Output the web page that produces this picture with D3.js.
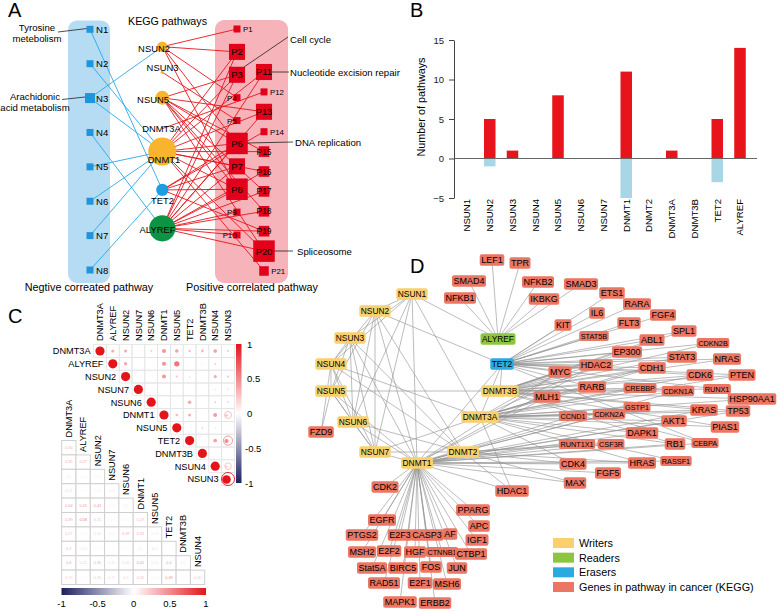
<!DOCTYPE html>
<html><head><meta charset="utf-8">
<script src="https://d3js.org/d3.v7.min.js"></script>
<style>
body{margin:0;background:#fff;}
svg{display:block;}
text{font-family:Arial,"Liberation Sans",Helvetica,sans-serif;}
</style></head>
<body>
<svg id="fig" width="777" height="611"></svg>
<script>
// ================= DATA =================
// ---- Panel A : KEGG pathway network ----
const negPathways = ["N1","N2","N3","N4","N5","N6","N7","N8"];
const posPathwaysLeft = ["P1","P2","P3","P4","P5","P6","P7","P8","P9","P10"];
const posPathwaysRight = ["P11","P12","P13","P14","P15","P16","P17","P18","P19","P20","P21"];
const posPathwayWeight = [1,3.5,3.5,1,1,5,3.5,5,1,1, 3.5,1,3.5,1,2,2,2,2,2,5,1.7];
const regulatorsA = ["NSUN2","NSUN3","NSUN5","DNMT3A","DNMT1","TET2","ALYREF"];
const regulatorClassA = ["Writers","Writers","Writers","Writers","Writers","Erasers","Readers"];
const negEdges = [["N1","TET2"],["N2","DNMT1"],["N3","NSUN2"],["N3","DNMT1"],["N4","ALYREF"],
  ["N5","DNMT1"],["N6","DNMT1"],["N7","DNMT1"],["N8","TET2"]];
const posTargets = {
  NSUN2:["P1","P2","P4","P6","P8"],
  NSUN3:["P5"],
  NSUN5:["P3","P6","P8","P13","P15","P17","P18","P20"],
  DNMT3A:["P12"],
  DNMT1:["P2","P3","P6","P7","P8","P11","P13","P15","P16","P20","P21"],
  TET2:["P6","P7","P8","P14","P19"],
  ALYREF:["P2","P3","P6","P7","P8","P9","P10","P11","P13","P16","P17","P18","P19","P20"]
};
const noteNodes = ["N1","N3","P3","P11","P6","P20"];
const noteTexts = [["Tyrosine","metebolism"],["Arachidonic","acid metabolism"],["Cell cycle"],
  ["Nucleotide excision repair"],["DNA replication"],["Spliceosome"]];

// ---- Panel B : number of pathways ----
const bCategories = ["NSUN1","NSUN2","NSUN3","NSUN4","NSUN5","NSUN6","NSUN7","DNMT1","DNMT2","DNMT3A","DNMT3B","TET2","ALYREF"];
const bPositive = [0,5,1,0,8,0,0,11,0,1,0,5,14];
const bNegative = [0,-1,0,0,0,0,0,-5,0,0,0,-3,0];
const bTicks = [-5,0,5,10,15];

// ---- Panel C : correlation matrix (lower triangle, row i vs columns 0..i-1) ----
const cVars = ["DNMT3A","ALYREF","NSUN2","NSUN7","NSUN6","DNMT1","NSUN5","TET2","DNMT3B","NSUN4","NSUN3"];
const cLower = [
  [],
  [0.34],
  [0.35,0.37],
  [0.1,0.03,0.05],
  [0.21,0.02,0.06,0.08],
  [0.44,0.45,0.44,0.04,0.1],
  [0.39,0.58,0.25,0.03,0.05,0.29],
  [0.27,0.03,0.16,0.1,0.37,0.33,-0.07],
  [0.3,0.13,0.04,0,0.02,0.1,0.2,0.02],
  [0.4,0.22,0.35,0.15,0.22,0.42,0.15,0.4,0.1],
  [0.23,0.03,0.25,0.17,0.2,0.29,-0.04,0.49,0.02,0.26]
];
const cBarTicks = [-1,-0.5,0,0.5,1];

// ---- Panel D : regulator / cancer-gene network ----
const dWriters = ["NSUN1","NSUN2","NSUN3","NSUN4","NSUN5","NSUN6","NSUN7","DNMT1","DNMT2","DNMT3A","DNMT3B"];
const dReaders = ["ALYREF"];
const dErasers = ["TET2"];
const dGenes = ["LEF1","TPR","SMAD4","NFKB1","NFKB2","IKBKG","SMAD3","ETS1","RARA","IL6","FGF4","KIT","FLT3","STAT5B",
  "SPL1","ABL1","CDKN2B","EP300","STAT3","NRAS","HDAC2","MYC","CDH1","CDK6","PTEN","RARB","CREBBP","CDKN1A","RUNX1",
  "HSP90AA1","MLH1","KRAS","TP53","GSTP1","CDKN2A","CCND1","AKT1","PIAS1","DAPK1","RB1","CEBPA","RUNT1X1","CSF3R",
  "HRAS","RASSF1","CDK4","FGF5","MAX","HDAC1","CDK2","FZD9","PPARG","APC","EGFR","PTGS2","E2F3","CASP3","AF","IGF1",
  "MSH2","E2F2","HGF","CTNNB1","CTBP1","Stat5A","BIRC5","FOS","JUN","RAD51","E2F1","MSH6","MAPK1","ERBB2"];
const dRegEdges = [["NSUN1","NSUN2"],["NSUN1","NSUN3"],["NSUN1","NSUN4"],["NSUN1","NSUN6"],["NSUN1","NSUN7"],["NSUN1","DNMT1"],
  ["NSUN1","DNMT3A"],["NSUN1","ALYREF"],["NSUN2","NSUN4"],["NSUN2","NSUN5"],["NSUN2","NSUN6"],["NSUN2","NSUN7"],["NSUN2","TET2"],
  ["NSUN2","DNMT2"],["NSUN2","DNMT1"],["NSUN3","NSUN4"],["NSUN3","NSUN5"],["NSUN3","NSUN6"],["NSUN3","NSUN7"],["NSUN3","DNMT2"],
  ["NSUN3","DNMT1"],["NSUN4","NSUN5"],["NSUN4","NSUN6"],["NSUN4","NSUN7"],["NSUN4","DNMT3A"],["NSUN4","FZD9"],["NSUN4","DNMT2"],
  ["NSUN5","NSUN6"],["NSUN5","NSUN7"],["NSUN5","FZD9"],["NSUN5","DNMT1"],["NSUN5","DNMT3B"],["NSUN6","NSUN7"],["NSUN6","DNMT2"],
  ["NSUN6","DNMT1"],["NSUN7","DNMT1"],["NSUN7","DNMT2"],["NSUN7","DNMT3A"],["TET2","DNMT3B"],["TET2","DNMT3A"],["TET2","DNMT1"]];
const dTargets = {
  ALYREF:["LEF1","TPR","SMAD4","NFKB1","NFKB2","IKBKG","SMAD3"],
  TET2:["ETS1","RARA","IL6","KIT","FLT3","STAT5B","FGF4","ABL1","SPL1","CDKN2B","EP300","STAT3","NRAS","MYC","HDAC2","CDK6",
    "RUNX1","CEBPA","CDH1","RARB","PTEN"],
  DNMT3B:["MYC","MLH1","HDAC2","CDH1","EP300","STAT3","ABL1","NRAS","PTEN","CDK6","RUNX1","HSP90AA1","TP53","KRAS","PIAS1",
    "RB1","CEBPA","CDKN2B","SPL1","CREBBP","CDKN1A"],
  DNMT3A:["MYC","MLH1","HDAC2","RARB","CDH1","CDK6","CDKN2A","CCND1","GSTP1","STAT3","CREBBP","CDKN1A","KRAS","TP53","AKT1",
    "DAPK1","RB1","RASSF1","PTEN","HRAS","HDAC1","CDK4","HSP90AA1","PIAS1"],
  DNMT1:["CDK2","EGFR","PTGS2","E2F3","CASP3","AF","MSH2","E2F2","HGF","CTNNB1","Stat5A","BIRC5","FOS","JUN","RAD51","E2F1",
    "MSH6","MAPK1","ERBB2","PPARG","APC","IGF1","CTBP1","HDAC1","CDK4","MAX","FGF5","HRAS","RUNT1X1","CSF3R","DAPK1","RB1",
    "MLH1","MYC","CCND1","CDKN2A","GSTP1","AKT1","KRAS","RASSF1","CEBPA","TP53","CDKN1A","HDAC2"],
  DNMT2:["HDAC1","CDK4","MAX","CSF3R","RUNT1X1","HRAS"]
};
const legendLabels = ["Writers","Readers","Erasers","Genes in pathway in cancer (KEGG)"];

// ================= LAYOUT / STYLE =================
const colA = {neg:90, reg:162.3, pL:237, pR:264};
const regLayoutA = [0,1,2,3.2,4.1,5.6,7.1];
const regLabelA = [[154,4.8],[162.5,-0.8],[153,4.7],[161.5,3.4],[164,11.4],[162.5,13.7],[157.5,4.7]];
const pLabelSide = {P1:"r",P4:"l",P5:"l",P9:"l",P10:"l",P12:"r",P14:"r",P21:"r"};
const noteLayout = [
  {line:[58,32,87,28.5], text:[37,31], anchor:"middle"},
  {line:[62,99.5,85,97], text:[35,100], anchor:"middle"},
  {line:[244,67,288,37], text:[290,43], anchor:"start"},
  {line:[271,72,289,72], text:[290,76], anchor:"start"},
  {line:[247,143,293,142], text:[295,145.5], anchor:"start"},
  {line:[274,251,293,251], text:[297,254.5], anchor:"start"}
];
const dLayout = {
  NSUN1:[112,39],NSUN2:[75,56],NSUN3:[50,83],NSUN4:[31,109],NSUN5:[31,136],NSUN6:[53,167],NSUN7:[75,197],
  DNMT1:[117,208],DNMT2:[163,197],DNMT3A:[180,162],DNMT3B:[200,136],ALYREF:[198,84],TET2:[202,109],
  LEF1:[192,5],TPR:[220,8],SMAD4:[169,26],NFKB1:[160,43],NFKB2:[238,27],IKBKG:[244,44],SMAD3:[281,29],ETS1:[312,38],
  RARA:[337,49],IL6:[297,58],FGF4:[363,60],KIT:[263,70],FLT3:[329,68],STAT5B:[294,81],SPL1:[384,76],ABL1:[352,85],
  CDKN2B:[413,88],EP300:[327,97],STAT3:[382,102],NRAS:[427,104],HDAC2:[296,110],MYC:[260,117],CDH1:[352,113],
  CDK6:[400,120],PTEN:[442,120],RARB:[292,132],CREBBP:[340,133],CDKN1A:[378,136],RUNX1:[417,134],HSP90AA1:[452,144],
  MLH1:[247,142],KRAS:[404,155],TP53:[438,156],GSTP1:[337,152],CDKN2A:[309,159],CCND1:[273,161],AKT1:[374,166],
  PIAS1:[425,172],DAPK1:[342,178],RB1:[375,189],CEBPA:[405,188],RUNT1X1:[277,189],CSF3R:[311,189],HRAS:[342,208],
  RASSF1:[376,206],CDK4:[273,209],FGF5:[308,218],MAX:[275,228],HDAC1:[212,236],CDK2:[85,232],FZD9:[21,177],
  PPARG:[173,255],APC:[179,271],EGFR:[82,265],PTGS2:[62,280],E2F3:[100,280],CASP3:[127,280],AF:[150,279],IGF1:[177,285],
  MSH2:[62,297],E2F2:[89,296],HGF:[115,297],CTNNB1:[142,297],CTBP1:[171,299],Stat5A:[72,313],BIRC5:[103,313],
  FOS:[131,312],JUN:[157,313],RAD51:[84,328],E2F1:[120,328],MSH6:[147,329],MAPK1:[100,347],ERBB2:[135,348]
};
const dSmallLabel = new Set(["STAT5B","CDKN2B","CREBBP","CDKN1A","RUNX1","GSTP1","CDKN2A","CCND1","RUNT1X1","CSF3R","CEBPA","RASSF1","CTNNB1"]);
const roleColor = {Writers:"#f8d16e", Readers:"#8cc63f", Erasers:"#29abe2", Genes:"#ea7663"};
const roleColorA = {Writers:"#f8b42c", Readers:"#0c9444", Erasers:"#1c9de2"};

// ================= DRAW =================
const svg = d3.select("#fig");

// panel letters
[["A",8,17],["B",410,17],["C",8,323],["D",410,273]].forEach(([t,x,y])=>{
  svg.append("text").attr("x",x).attr("y",y).attr("font-size",20).text(t);
});

// ---------- Panel A ----------
const gA = svg.append("g");
gA.append("rect").attr("x",68).attr("y",20.5).attr("width",42).attr("height",262.5).attr("rx",9).attr("fill","#b5dcf3");
gA.append("rect").attr("x",215).attr("y",20).attr("width",73).attr("height",263).attr("rx",9).attr("fill","#f6b3b9");
gA.append("text").attr("x",128).attr("y",25).attr("font-size",10.7).text("KEGG pathways");
gA.append("text").attr("x",89).attr("y",291).attr("text-anchor","middle").attr("font-size",10.8).text("Negtive correated pathway");
gA.append("text").attr("x",252).attr("y",291).attr("text-anchor","middle").attr("font-size",10.8).text("Positive correlated pathway");

const nY = d3.scalePoint().domain(negPathways).range([29.3,270]);
const pLY = d3.scalePoint().domain(posPathwaysLeft).range([29,235]);
const pRY = d3.scalePoint().domain(posPathwaysRight).range([72,271]);
const regY = d3.scaleLinear().domain([0,7.1]).range([46.7,228.3]);
const posA = {};
negPathways.forEach(n=>posA[n]={x:colA.neg,y:nY(n)});
posPathwaysLeft.forEach(n=>posA[n]={x:colA.pL,y:pLY(n)});
posPathwaysRight.forEach(n=>posA[n]={x:colA.pR,y:pRY(n)});
regulatorsA.forEach((n,i)=>posA[n]={x:colA.reg,y:regY(regLayoutA[i])});

const posEdges = [];
Object.entries(posTargets).forEach(([g,ps])=>ps.forEach(p=>posEdges.push([g,p])));
gA.selectAll("line.pos").data(posEdges).join("line")
  .attr("x1",d=>posA[d[0]].x).attr("y1",d=>posA[d[0]].y)
  .attr("x2",d=>posA[d[1]].x).attr("y2",d=>posA[d[1]].y)
  .attr("stroke","#e8141c").attr("stroke-width",0.9);
gA.selectAll("line.neg").data(negEdges).join("line")
  .attr("x1",d=>posA[d[0]].x).attr("y1",d=>posA[d[0]].y)
  .attr("x2",d=>posA[d[1]].x).attr("y2",d=>posA[d[1]].y)
  .attr("stroke","#29a8e8").attr("stroke-width",0.9);

// annotation leaders
noteNodes.forEach((n,i)=>{
  const L = noteLayout[i];
  gA.append("line").attr("x1",L.line[0]).attr("y1",L.line[1]).attr("x2",L.line[2]).attr("y2",L.line[3])
    .attr("stroke","#222").attr("stroke-width",0.8);
  noteTexts[i].forEach((t,k)=>{
    gA.append("text").attr("x",L.text[0]).attr("y",L.text[1]+k*10.5).attr("text-anchor",L.anchor)
      .attr("font-size",9.6).text(t);
  });
});

// negative pathway squares
const negDeg = n=>negEdges.filter(e=>e[0]===n).length;
const nSide = d3.scaleLinear().domain([1,2]).range([7,10]);
negPathways.forEach(n=>{
  const s = nSide(negDeg(n));
  gA.append("rect").attr("x",posA[n].x-s/2).attr("y",posA[n].y-s/2).attr("width",s).attr("height",s).attr("fill","#1f96dc");
  gA.append("text").attr("x",96).attr("y",posA[n].y+3.6).attr("font-size",9.6).text(n);
});

// positive pathway squares
const pSide = d3.scaleLinear().domain([1,5]).range([7,21.5]);
const allP = posPathwaysLeft.concat(posPathwaysRight);
allP.forEach((n,i)=>{
  const w = posPathwayWeight[i], s = pSide(w), p = posA[n];
  gA.append("rect").attr("x",p.x-s/2).attr("y",p.y-s/2).attr("width",s).attr("height",s).attr("fill","#e2001a");
  const side = pLabelSide[n] || "c";
  const t = gA.append("text").attr("y",p.y+3).text(n);
  if(side==="c"){ t.attr("x",p.x).attr("text-anchor","middle").attr("font-size",w>=3?9.4:8.4).attr("y",p.y+(w>=3?3.4:3)); }
  else if(side==="r"){ t.attr("x",p.x+s/2+2.5).attr("font-size",7.8); }
  else { t.attr("x",p.x-s/2+3).attr("text-anchor","end").attr("font-size",7.8); }
});

// regulator circles
const regDeg = n=>negEdges.filter(e=>e[1]===n).length+(posTargets[n]||[]).length;
const rScale = d3.scaleLinear().domain([0,16]).range([0,14]);
regulatorsA.forEach((n,i)=>{
  const r = Math.max(1.6,rScale(regDeg(n)));
  if(n!=="DNMT3A") gA.append("circle").attr("cx",posA[n].x).attr("cy",posA[n].y).attr("r",r).attr("fill",roleColorA[regulatorClassA[i]]);
  gA.append("text").attr("x",regLabelA[i][0]).attr("y",posA[n].y+regLabelA[i][1]).attr("text-anchor","middle")
    .attr("font-size",9.4).text(n);
});

// ---------- Panel B ----------
const gB = svg.append("g");
const bx = d3.scalePoint().domain(bCategories).range([467,740]);
const by = d3.scaleLinear().domain([-5,15]).range([198,40]);
const bw = 11.5;
gB.selectAll("rect.p").data(bCategories).join("rect")
  .attr("x",d=>bx(d)-bw/2).attr("width",bw)
  .attr("y",(d,i)=>by(bPositive[i])).attr("height",(d,i)=>by(0)-by(bPositive[i]))
  .attr("fill","#e8141c");
gB.selectAll("rect.n").data(bCategories).join("rect")
  .attr("x",d=>bx(d)-bw/2).attr("width",bw)
  .attr("y",by(0)).attr("height",(d,i)=>by(bNegative[i])-by(0))
  .attr("fill","#a9d6e4");
gB.append("line").attr("x1",454).attr("x2",757).attr("y1",by(0)).attr("y2",by(0)).attr("stroke","#666").attr("stroke-width",1.1);
const ax = gB.append("g").attr("transform","translate(454,0)")
  .call(d3.axisLeft(by).tickValues(bTicks).tickSize(5).tickSizeOuter(0).tickPadding(5));
ax.select(".domain").attr("stroke","#444");
ax.selectAll(".tick line").attr("stroke","#444");
ax.selectAll(".tick text").attr("font-size",9.5).attr("font-family","Arial,'Liberation Sans',sans-serif").attr("fill","#222");
gB.append("text").attr("transform","translate(425,107) rotate(-90)").attr("text-anchor","middle")
  .attr("font-size",10.8).text("Number of pathways");
bCategories.forEach(c=>{
  gB.append("text").attr("transform",`translate(${bx(c)+3.4},199) rotate(-90)`).attr("text-anchor","end")
    .attr("font-size",9.6).text(c);
});

// ---------- Panel C ----------
const gC = svg.append("g");
const corr = (i,j)=> i===j?1:(i>j?cLower[i][j]:cLower[j][i]);
const cColor = d3.scaleLinear().domain([-1,0,1]).range(["#1c1f5f","#ffffff","#e4141b"]);
const n = cVars.length;
const ux = d3.scaleBand().domain(cVars).range([93.6,93.6+11*12.8]);
const uy = d3.scaleBand().domain(cVars).range([344.6,344.6+11*12.8]);
const us = ux.bandwidth();
for(let i=0;i<n;i++){
  for(let j=i;j<n;j++){
    gC.append("rect").attr("x",ux(cVars[j])).attr("y",uy(cVars[i])).attr("width",us).attr("height",us)
      .attr("fill","none").attr("stroke","#e4e4e4").attr("stroke-width",0.8);
  }
}
for(let i=0;i<n;i++){
  for(let j=i;j<n;j++){
    const v = corr(i,j), cx = ux(cVars[j])+us/2, cy = uy(cVars[i])+us/2;
    if(j===n-1 && Math.abs(v)>0.25){
      gC.append("circle").attr("cx",cx).attr("cy",cy).attr("r",6.5*Math.sqrt(Math.abs(v)))
        .attr("fill","none").attr("stroke",cColor(v)).attr("stroke-width",0.9);
      gC.append("circle").attr("cx",cx-1.5).attr("cy",cy+0.5).attr("r",Math.abs(v)*4.3).attr("fill",cColor(v));
    } else {
      gC.append("circle").attr("cx",cx).attr("cy",cy).attr("r",Math.abs(v)*4.6).attr("fill",cColor(v));
    }
  }
}
cVars.forEach((v,i)=>{
  gC.append("text").attr("transform",`translate(${ux(v)+us/2+3.2},341) rotate(-90)`).attr("font-size",9.2).text(v);
  gC.append("text").attr("x",ux(v)-3).attr("y",uy(v)+us/2+3.3).attr("text-anchor","end").attr("font-size",9.2).text(v);
});
// vertical colorbar
const defs = svg.append("defs");
const gv = defs.append("linearGradient").attr("id","gv").attr("x1",0).attr("y1",1).attr("x2",0).attr("y2",0);
const gh = defs.append("linearGradient").attr("id","gh").attr("x1",0).attr("y1",0).attr("x2",1).attr("y2",0);
d3.range(0,1.0001,0.1).forEach(t=>{
  gv.append("stop").attr("offset",t).attr("stop-color",cColor(-1+2*t));
  gh.append("stop").attr("offset",t).attr("stop-color",cColor(-1+2*t));
});
const cvY = d3.scaleLinear().domain([-1,1]).range([483,344]);
gC.append("rect").attr("x",236).attr("y",344).attr("width",5.5).attr("height",139).attr("fill","url(#gv)");
cBarTicks.forEach(t=>{
  gC.append("text").attr("x",t<0?245:247).attr("y",cvY(t)+3.5).attr("font-size",9.5).text(t===0?"0":(t<0?"-":"")+Math.abs(t));
});
// lower triangle table
const lvars = cVars.slice(1), lcols = cVars.slice(0,n-1);
const lx = d3.scaleBand().domain(lcols).range([61.7,61.7+10*14.3]);
const ly = d3.scaleBand().domain(lvars).range([440.5,440.5+10*14.4]);
lvars.forEach((rv,ri)=>{
  for(let cj=0;cj<=ri;cj++){
    const v = cLower[ri+1][cj];
    const x = lx(lcols[cj]), y = ly(rv);
    gC.append("rect").attr("x",x).attr("y",y).attr("width",lx.bandwidth()).attr("height",ly.bandwidth())
      .attr("fill","#fff").attr("stroke","#cfcfcf").attr("stroke-width",1);
    gC.append("text").attr("x",x+lx.bandwidth()/2).attr("y",y+ly.bandwidth()/2+1.3).attr("text-anchor","middle")
      .attr("font-size",3.8).attr("fill",cColor(v)).text(String(v));
  }
});
lcols.forEach((v,j)=>{
  gC.append("text").attr("transform",`translate(${lx(v)+lx.bandwidth()/2+3.2},${ly(lvars[j])-3}) rotate(-90)`)
    .attr("font-size",9.2).text(v);
});
const chX = d3.scaleLinear().domain([-1,1]).range([61.5,206]);
gC.append("rect").attr("x",61.5).attr("y",588).attr("width",144.5).attr("height",7).attr("fill","url(#gh)");
cBarTicks.forEach(t=>{
  gC.append("text").attr("x",chX(t)).attr("y",607).attr("text-anchor","middle").attr("font-size",9.5)
    .text(t===0?"0":(t<0?"-":"")+Math.abs(t));
});

// ---------- Panel D ----------
const gD = svg.append("g");
const dx = d3.scaleLinear().domain([0,477]).range([300,777]);
const dy = d3.scaleLinear().domain([0,356]).range([255,611]);
const P = n=>({x:dx(dLayout[n][0]), y:dy(dLayout[n][1])});
const dEdges = dRegEdges.slice();
Object.entries(dTargets).forEach(([r,gs])=>gs.forEach(g=>dEdges.push([r,g])));
gD.selectAll("line").data(dEdges).join("line")
  .attr("x1",d=>P(d[0]).x).attr("y1",d=>P(d[0]).y).attr("x2",d=>P(d[1]).x).attr("y2",d=>P(d[1]).y)
  .attr("stroke","#8f8f8f").attr("stroke-width",0.6);
const roleOf = n=> dWriters.includes(n)?"Writers":dReaders.includes(n)?"Readers":dErasers.includes(n)?"Erasers":"Genes";
const allD = dGenes.concat(dWriters,dReaders,dErasers);
allD.forEach(nm=>{
  const p = P(nm), role = roleOf(nm);
  const small = dSmallLabel.has(nm);
  const fs = role==="Genes"?(small?7.3:9):8.4;
  const h = small?10:11.5;
  const g = gD.append("g");
  const t = g.append("text").attr("x",p.x).attr("y",p.y+fs*0.36).attr("text-anchor","middle").attr("font-size",fs).text(nm);
  const w = t.node().getComputedTextLength()+3;
  g.insert("rect","text").attr("x",p.x-w/2).attr("y",p.y-h/2).attr("width",w).attr("height",h).attr("rx",2)
    .attr("fill",roleColor[role]);
});
// legend
const legY = d3.scalePoint().domain(legendLabels).range([543,587]);
const legRole = ["Writers","Readers","Erasers","Genes"];
legendLabels.forEach((l,i)=>{
  gD.append("rect").attr("x",553).attr("y",legY(l)-5).attr("width",21).attr("height",10).attr("fill",roleColor[legRole[i]]);
  gD.append("text").attr("x",579).attr("y",legY(l)+4).attr("font-size",10.8).text(l);
});
</script>
</body></html>
